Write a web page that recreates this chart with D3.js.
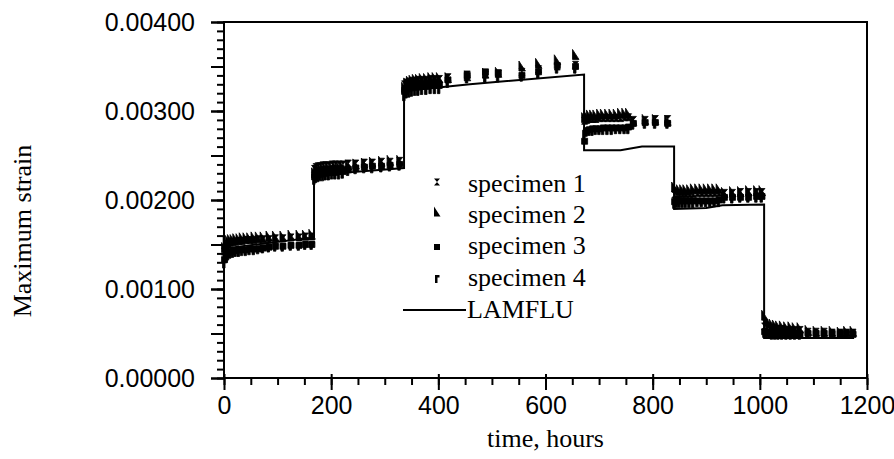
<!DOCTYPE html>
<html>
<head>
<meta charset="utf-8">
<script src="https://cdn.jsdelivr.net/npm/d3@7"></script>
<style>
  body { margin: 0; background: #fff; }
  #chart { width: 894px; height: 459px; }
</style>
</head>
<body>
<div id="chart"></div>
<script>
// measurement times (hours), shared by the four specimens, one row per load step
const hours = [
    1, 4, 8, 12, 17, 22, 28, 34, 41, 48, 56, 64, 73, 84, 96, 110, 125, 140, 152, 164,
    169, 172, 176, 180, 185, 190, 196, 202, 208, 215, 222, 232, 246, 262, 277, 294, 310, 328,
    337, 341, 346, 351, 357, 363, 370, 378, 386, 394, 402, 418, 454, 488, 512, 556, 587, 622, 656,
    673, 677, 682, 688, 694, 701, 708, 716, 724, 732, 740, 748, 755, 764, 786, 805, 828,
    841, 845, 850, 856, 862, 869, 876, 884, 892, 900, 908, 916, 924, 934, 949, 964, 979, 994, 1004,
    1009, 1013, 1018, 1023, 1029, 1035, 1042, 1050, 1058, 1066, 1075, 1090, 1105, 1120, 1135, 1150, 1162, 1174
];

const specimen1 = [
    0.00142, 0.00148, 0.00151, 0.00152, 0.00153, 0.00153, 0.00154, 0.00154, 0.00155, 0.00155, 0.00155, 0.00156, 0.00156, 0.00156, 0.00157, 0.00157, 0.00158, 0.00158, 0.00159, 0.00159,
    0.00235, 0.00237, 0.00238, 0.00238, 0.00239, 0.00239, 0.00239, 0.00240, 0.00240, 0.00240, 0.00240, 0.00241, 0.00241, 0.00242, 0.00242, 0.00243, 0.00243, 0.00244,
    0.00330, 0.00332, 0.00333, 0.00334, 0.00334, 0.00335, 0.00335, 0.00335, 0.00336, 0.00336, 0.00336, 0.00338, 0.00341, 0.00341, 0.00342, 0.00344, 0.00347, 0.00350, 0.00352,
    0.00289, 0.00290, 0.00291, 0.00291, 0.00291, 0.00292, 0.00292, 0.00292, 0.00292, 0.00292, 0.00292, 0.00293, 0.00293, 0.00290, 0.00290, 0.00291, 0.00291,
    0.00206, 0.00206, 0.00207, 0.00207, 0.00207, 0.00207, 0.00207, 0.00208, 0.00208, 0.00208, 0.00208, 0.00208, 0.00208, 0.00208, 0.00208, 0.00209, 0.00209, 0.00209, 0.00209,
    0.00058, 0.00057, 0.00056, 0.00056, 0.00055, 0.00055, 0.00055, 0.00054, 0.00054, 0.00054, 0.00054, 0.00052, 0.00052, 0.00052, 0.00051, 0.00051, 0.00051, 0.00051
];

const specimen2 = [
    0.00146, 0.00152, 0.00154, 0.00155, 0.00155, 0.00156, 0.00156, 0.00157, 0.00157, 0.00157, 0.00158, 0.00158, 0.00158, 0.00159, 0.00159, 0.00159, 0.00160, 0.00160, 0.00160, 0.00161,
    0.00230, 0.00233, 0.00234, 0.00235, 0.00235, 0.00236, 0.00236, 0.00236, 0.00237, 0.00237, 0.00237, 0.00239, 0.00240, 0.00241, 0.00242, 0.00243, 0.00244, 0.00244,
    0.00326, 0.00331, 0.00333, 0.00334, 0.00335, 0.00335, 0.00336, 0.00336, 0.00337, 0.00337, 0.00337, 0.00337, 0.00339, 0.00342, 0.00343, 0.00350, 0.00353, 0.00357, 0.00363,
    0.00292, 0.00294, 0.00295, 0.00295, 0.00295, 0.00296, 0.00296, 0.00296, 0.00296, 0.00296, 0.00297, 0.00297, 0.00297, 0.00289, 0.00290, 0.00290, 0.00289,
    0.00214, 0.00211, 0.00211, 0.00211, 0.00211, 0.00211, 0.00212, 0.00212, 0.00212, 0.00212, 0.00212, 0.00212, 0.00212, 0.00208, 0.00209, 0.00209, 0.00210, 0.00210, 0.00210,
    0.00070, 0.00063, 0.00061, 0.00060, 0.00059, 0.00058, 0.00058, 0.00057, 0.00057, 0.00056, 0.00056, 0.00053, 0.00052, 0.00052, 0.00052, 0.00051, 0.00052, 0.00052
];

const specimen3 = [
    0.00133, 0.00139, 0.00141, 0.00142, 0.00143, 0.00143, 0.00144, 0.00144, 0.00144, 0.00145, 0.00145, 0.00145, 0.00146, 0.00147, 0.00148, 0.00148, 0.00149, 0.00149, 0.00150, 0.00150,
    0.00226, 0.00228, 0.00229, 0.00229, 0.00230, 0.00230, 0.00231, 0.00231, 0.00231, 0.00232, 0.00232, 0.00234, 0.00236, 0.00237, 0.00238, 0.00238, 0.00239, 0.00240,
    0.00322, 0.00325, 0.00326, 0.00327, 0.00327, 0.00328, 0.00328, 0.00328, 0.00329, 0.00329, 0.00329, 0.00335, 0.00340, 0.00344, 0.00343, 0.00340, 0.00344, 0.00351, 0.00350,
    0.00266, 0.00278, 0.00279, 0.00280, 0.00280, 0.00280, 0.00281, 0.00281, 0.00281, 0.00281, 0.00281, 0.00281, 0.00282, 0.00286, 0.00287, 0.00287, 0.00286,
    0.00198, 0.00199, 0.00199, 0.00199, 0.00199, 0.00199, 0.00199, 0.00199, 0.00199, 0.00199, 0.00199, 0.00199, 0.00200, 0.00203, 0.00203, 0.00203, 0.00203, 0.00204, 0.00204,
    0.00052, 0.00051, 0.00051, 0.00050, 0.00050, 0.00050, 0.00050, 0.00049, 0.00049, 0.00049, 0.00049, 0.00050, 0.00050, 0.00050, 0.00050, 0.00050, 0.00050, 0.00049
];

const specimen4 = [
    0.00128, 0.00134, 0.00137, 0.00139, 0.00140, 0.00141, 0.00141, 0.00142, 0.00142, 0.00143, 0.00143, 0.00144, 0.00145, 0.00146, 0.00147, 0.00147, 0.00148, 0.00148, 0.00149, 0.00149,
    0.00222, 0.00224, 0.00225, 0.00226, 0.00226, 0.00227, 0.00227, 0.00228, 0.00228, 0.00228, 0.00229, 0.00232, 0.00234, 0.00235, 0.00235, 0.00236, 0.00237, 0.00238,
    0.00316, 0.00319, 0.00320, 0.00321, 0.00322, 0.00322, 0.00323, 0.00323, 0.00324, 0.00324, 0.00324, 0.00331, 0.00336, 0.00337, 0.00337, 0.00338, 0.00341, 0.00347, 0.00347,
    0.00274, 0.00276, 0.00277, 0.00277, 0.00278, 0.00278, 0.00278, 0.00278, 0.00278, 0.00279, 0.00279, 0.00279, 0.00279, 0.00284, 0.00285, 0.00285, 0.00285,
    0.00195, 0.00196, 0.00196, 0.00196, 0.00196, 0.00196, 0.00196, 0.00197, 0.00197, 0.00197, 0.00197, 0.00197, 0.00197, 0.00201, 0.00201, 0.00202, 0.00202, 0.00202, 0.00202,
    0.00050, 0.00049, 0.00049, 0.00048, 0.00048, 0.00048, 0.00048, 0.00048, 0.00048, 0.00048, 0.00048, 0.00049, 0.00049, 0.00049, 0.00049, 0.00049, 0.00049, 0.00049
];

// LAMFLU prediction (step line)
const lamfluHours  = [0, 8, 168, 168, 336, 336, 345, 459, 672, 672, 740, 780, 840, 840, 900, 930, 1008, 1008, 1176];
const lamfluStrain = [0.00146, 0.00146, 0.00158, 0.00228, 0.00236, 0.00320, 0.00323, 0.00330, 0.00341, 0.00256, 0.00256, 0.00260, 0.00260, 0.00190, 0.00191, 0.00194, 0.00195, 0.00045, 0.00045];

const seriesNames = ["specimen 1", "specimen 2", "specimen 3", "specimen 4"];
const xLabelTicks = [0, 200, 400, 600, 800, 1000, 1200];
const yLabelTicks = [0, 0.001, 0.002, 0.003, 0.004];

// marker shapes, one per specimen
const markerPaths = [
    "M-3,-3.5H3L-3,3.5H3Z",          // bow-tie "x"
    "M-3,-5.5L3.5,4.5H-3Z",          // wedge triangle
    "M-3,-3H3V3H-3Z",                // square
    "M-2,-4H2.5V-1.5H0.5V4H-2Z"      // small flag
];

function drawChart() {
    let div_id = "#chart";
    let win_width = 894, win_height = 459;
    let margin = {top: 22, right: 27, bottom: 81, left: 224};
    let width = win_width - margin.left - margin.right;
    let height = win_height - margin.top - margin.bottom;

    let svg = d3.select(div_id).append("svg")
        .attr("width", win_width)
        .attr("height", win_height);

    let g = svg.append("g")
        .attr("transform", "translate(" + margin.left + "," + margin.top + ")");

    let x = d3.scaleLinear().domain([0, 1200]).range([0, width]);
    let y = d3.scaleLinear().domain([0, 0.004]).range([height, 0]);

    let sansFont = "'Liberation Sans', Arial, sans-serif";
    let serifFont = "'Liberation Serif', 'Times New Roman', serif";

    // Y axis: minor ticks every 0.0001, long ticks every 0.0005, labels every 0.001
    g.append("g")
        .call(d3.axisLeft(y).tickValues(d3.range(0, 41).map(i => i / 10000)).tickSize(7).tickSizeOuter(0).tickFormat(""))
        .call(a => a.select(".domain").remove());
    g.append("g")
        .call(d3.axisLeft(y).tickValues(d3.range(0, 9).map(i => i * 5 / 10000)).tickSize(13).tickSizeOuter(0).tickFormat(""))
        .call(a => a.select(".domain").remove());
    g.append("g")
        .call(d3.axisLeft(y).tickValues(yLabelTicks).tickSize(13).tickSizeOuter(0).tickPadding(16).tickFormat(d3.format(".5f")))
        .call(a => a.select(".domain").remove())
        .selectAll("text")
        .style("font-family", sansFont)
        .style("font-size", "25px")
        .attr("fill", "#000");

    // X axis: minor ticks every 50 h, major every 200 h
    g.append("g")
        .attr("transform", "translate(0," + height + ")")
        .call(d3.axisBottom(x).tickValues(d3.range(0, 1201, 50)).tickSize(7).tickSizeOuter(0).tickFormat(""))
        .call(a => a.select(".domain").remove());
    let xMajor = g.append("g")
        .attr("transform", "translate(0," + height + ")")
        .call(d3.axisBottom(x).tickValues(xLabelTicks).tickSize(12).tickSizeOuter(0).tickPadding(6).tickFormat(d3.format("d")))
        .call(a => a.select(".domain").remove());
    xMajor.selectAll(".tick line").attr("y1", -4);
    xMajor.selectAll("text")
        .style("font-family", sansFont)
        .style("font-size", "25px")
        .attr("fill", "#000");

    g.selectAll(".tick line").attr("stroke", "#000").attr("stroke-width", 2);

    // frame
    g.append("rect")
        .attr("x", 0).attr("y", 0)
        .attr("width", width).attr("height", height)
        .attr("fill", "none")
        .attr("stroke", "#000")
        .attr("stroke-width", 2);

    // specimen markers
    let specimens = [specimen1, specimen2, specimen3, specimen4];
    specimens.forEach(function(vals, k) {
        g.append("g")
            .selectAll("path")
            .data(hours.map((h, i) => ({h: h, s: vals[i]})))
            .join("path")
            .attr("d", markerPaths[k])
            .attr("transform", d => "translate(" + x(d.h) + "," + y(d.s) + ")")
            .attr("fill", "#000")
            .attr("stroke", "#000")
            .attr("stroke-width", 0.8);
    });

    // LAMFLU line
    let lineData = lamfluHours.map((h, i) => [h, lamfluStrain[i]]);
    g.append("path")
        .datum(lineData)
        .attr("fill", "none")
        .attr("stroke", "#000")
        .attr("stroke-width", 2)
        .attr("d", d3.line().x(d => x(d[0])).y(d => y(d[1])));

    // axis titles
    svg.append("text")
        .attr("x", margin.left + width / 2)
        .attr("y", 447)
        .attr("text-anchor", "middle")
        .style("font-family", serifFont)
        .style("font-size", "26px")
        .text("time, hours");

    svg.append("text")
        .attr("transform", "translate(31,231) rotate(-90)")
        .attr("text-anchor", "middle")
        .style("font-family", serifFont)
        .style("font-size", "26px")
        .text("Maximum strain");

    // legend
    let legendMarkY = [182, 212, 247, 279];
    let legendTextY = [192, 223, 254, 286];
    seriesNames.forEach(function(name, k) {
        svg.append("path")
            .attr("d", markerPaths[k])
            .attr("transform", "translate(437," + legendMarkY[k] + ")")
            .attr("fill", "#000");
        svg.append("text")
            .attr("x", 468)
            .attr("y", legendTextY[k])
            .style("font-family", serifFont)
            .style("font-size", "26px")
            .text(name);
    });
    svg.append("line")
        .attr("x1", 403).attr("x2", 466)
        .attr("y1", 310).attr("y2", 310)
        .attr("stroke", "#000")
        .attr("stroke-width", 2);
    svg.append("text")
        .attr("x", 467)
        .attr("y", 318)
        .style("font-family", serifFont)
        .style("font-size", "26px")
        .text("LAMFLU");
}

drawChart();
</script>
</body>
</html>
